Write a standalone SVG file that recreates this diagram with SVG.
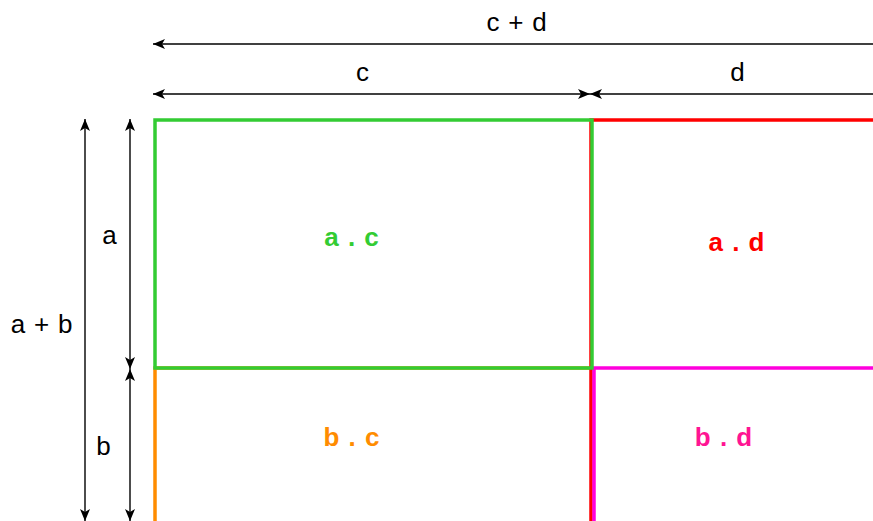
<svg xmlns="http://www.w3.org/2000/svg" width="873" height="521" viewBox="0 0 873 521">
<style>
.dim{stroke:#000;stroke-width:1.4;fill:none}
.cell{fill:none;stroke-width:3.5}
.lbl{font-family:"Liberation Sans",Arial,sans-serif;font-size:26px;letter-spacing:0.8px;fill:#000;text-anchor:middle}
.clbl{font-family:"Liberation Sans",Arial,sans-serif;font-size:26px;letter-spacing:1px;font-weight:bold;text-anchor:middle}
</style>
<defs>
<marker id="ah" viewBox="0 0 12 10" refX="12" refY="5" markerWidth="12" markerHeight="10" markerUnits="userSpaceOnUse" orient="auto-start-reverse">
<path d="M0,0 L12,5 L0,10 L3,5 z" fill="#000"/>
</marker>
</defs>
<rect width="873" height="521" fill="#fff"/>
<g id="cell-bc">
<path class="cell" d="M155,530 V368 H592" stroke="#ff8c00"/>
<text class="clbl" x="352" y="446" fill="#ff8c00">b . c</text>
</g>
<g id="cell-ad">
<path class="cell" d="M591,530 V120 H880" stroke="#ff0000"/>
<text class="clbl" x="737" y="251" fill="#ff0000">a . d</text>
</g>
<g id="cell-bd">
<path class="cell" d="M594,530 V368 H880" stroke="#ff00dd"/>
<text class="clbl" x="724" y="446" fill="#ff1493">b . d</text>
</g>
<g id="cell-ac">
<rect class="cell" x="155" y="120" width="437" height="248" stroke="#33cc33"/>
<text class="clbl" x="352" y="246" fill="#33cc33">a . c</text>
</g>
<g id="connectors">
<line class="dim" x1="153" y1="44" x2="873" y2="44" marker-start="url(#ah)"/>
<line class="dim" x1="153" y1="94" x2="590" y2="94" marker-start="url(#ah)" marker-end="url(#ah)"/>
<line class="dim" x1="590" y1="94" x2="873" y2="94" marker-start="url(#ah)"/>
<line class="dim" x1="85" y1="119" x2="85" y2="521" marker-start="url(#ah)" marker-end="url(#ah)"/>
<line class="dim" x1="130" y1="119" x2="130" y2="369" marker-start="url(#ah)" marker-end="url(#ah)"/>
<line class="dim" x1="130" y1="369" x2="130" y2="521" marker-start="url(#ah)" marker-end="url(#ah)"/>
</g>
<g id="dimension-labels">
<text class="lbl" x="517" y="31">c + d</text>
<text class="lbl" x="363" y="81">c</text>
<text class="lbl" x="738" y="81">d</text>
<text class="lbl" x="42" y="333">a + b</text>
<text class="lbl" x="110" y="244">a</text>
<text class="lbl" x="104" y="455">b</text>
</g>
</svg>
